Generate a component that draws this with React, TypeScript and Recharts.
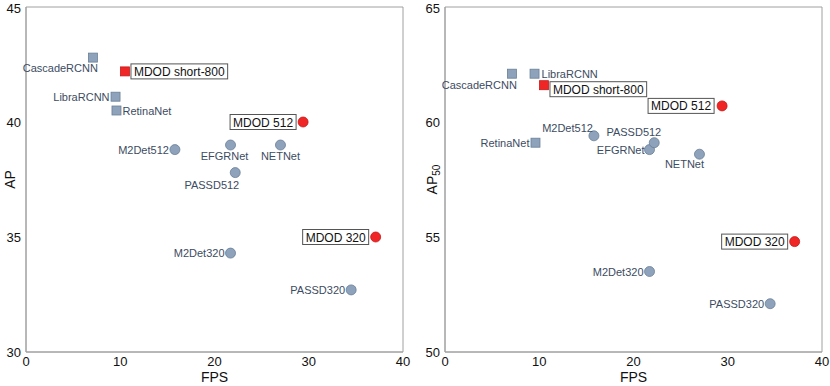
import React from "react";
import {
  ScatterChart,
  Scatter,
  XAxis,
  YAxis,
  ReferenceArea,
} from "recharts";

const models = [
  "CascadeRCNN",
  "LibraRCNN",
  "RetinaNet",
  "M2Det512",
  "EFGRNet",
  "NETNet",
  "PASSD512",
  "M2Det320",
  "PASSD320",
  "MDOD short-800",
  "MDOD 512",
  "MDOD 320",
];
const fps = [7.1, 9.5, 9.6, 15.8, 21.7, 27.0, 22.2, 21.7, 34.5, 10.5, 29.4, 37.1];
const ap = [42.8, 41.1, 40.5, 38.8, 39.0, 39.0, 37.8, 34.3, 32.7, 42.2, 40.0, 35.0];
const ap50 = [62.1, 62.1, 59.1, 59.4, 58.8, 58.6, 59.1, 53.5, 52.1, 61.6, 60.7, 54.8];

const squareModels = ["CascadeRCNN", "LibraRCNN", "RetinaNet", "MDOD short-800"];
const oursModels = ["MDOD short-800", "MDOD 512", "MDOD 320"];

const xTicks = [0, 10, 20, 30, 40];
const apTicks = [30, 35, 40, 45];
const ap50Ticks = [50, 55, 60, 65];

const FONT = "'Liberation Sans', Arial, Helvetica, sans-serif";
const BLUE_FILL = "#8ea3bb";
const BLUE_STROKE = "#6a7f97";
const RED_FILL = "#f02626";
const RED_STROKE = "#c81818";
const LABEL_COLOR = "#3c4c62";
const FRAME = "#a0a0a0";

type Place = { anchor?: "start" | "middle" | "end"; box?: "left" | "right"; dx: number; dy: number };

// label placement per chart (style, not data)
const apPlace: Record<string, Place> = {
  CascadeRCNN: { anchor: "end", dx: 5, dy: 14 },
  LibraRCNN: { anchor: "end", dx: -6, dy: 4 },
  RetinaNet: { anchor: "start", dx: 6, dy: 4 },
  M2Det512: { anchor: "end", dx: -6, dy: 4 },
  EFGRNet: { anchor: "middle", dx: -6, dy: 15 },
  NETNet: { anchor: "middle", dx: 0, dy: 15 },
  PASSD512: { anchor: "end", dx: 4, dy: 16 },
  M2Det320: { anchor: "end", dx: -6, dy: 4 },
  PASSD320: { anchor: "end", dx: -6, dy: 4 },
  "MDOD short-800": { box: "right", dx: 6, dy: 0 },
  "MDOD 512": { box: "left", dx: -7, dy: 0 },
  "MDOD 320": { box: "left", dx: -7, dy: 0 },
};

const ap50Place: Record<string, Place> = {
  CascadeRCNN: { anchor: "end", dx: 5, dy: 15 },
  LibraRCNN: { anchor: "start", dx: 7, dy: 4 },
  RetinaNet: { anchor: "end", dx: -6, dy: 4 },
  M2Det512: { anchor: "end", dx: -1, dy: -4 },
  EFGRNet: { anchor: "end", dx: -5, dy: 4 },
  NETNet: { anchor: "middle", dx: -15, dy: 14 },
  PASSD512: { anchor: "end", dx: 7, dy: -7 },
  M2Det320: { anchor: "end", dx: -6, dy: 4 },
  PASSD320: { anchor: "end", dx: -6, dy: 4 },
  "MDOD short-800": { box: "right", dx: 6, dy: 4 },
  "MDOD 512": { box: "left", dx: -8, dy: 0 },
  "MDOD 320": { box: "left", dx: -7, dy: 0 },
};

let ctx: CanvasRenderingContext2D | null = null;
function textWidth(s: string, size: number) {
  if (!ctx) ctx = document.createElement("canvas").getContext("2d");
  if (!ctx) return s.length * size * 0.55;
  ctx.font = `${size}px 'Liberation Sans'`;
  return ctx.measureText(s).width;
}

function makeShape(place: Record<string, Place>, square: boolean, red: boolean) {
  return (props: any) => {
    const { cx, cy, payload } = props;
    const p = place[payload.name];
    const fill = red ? RED_FILL : BLUE_FILL;
    const stroke = red ? RED_STROKE : BLUE_STROKE;
    const marker = square ? (
      <rect x={cx - 4.5} y={cy - 4.5} width={9} height={9} fill={fill} stroke={stroke} strokeWidth={0.8} />
    ) : (
      <circle cx={cx} cy={cy} r={5} fill={fill} stroke={stroke} strokeWidth={0.8} />
    );
    let label = null;
    if (p.box) {
      const w = textWidth(payload.name, 12) + 6;
      const h = 15;
      const bx = p.box === "right" ? cx + p.dx : cx + p.dx - w;
      const by = cy + p.dy - h / 2;
      label = (
        <g>
          <rect x={bx} y={by} width={w} height={h} fill="#fff" stroke="#555" strokeWidth={1} />
          <text x={bx + w / 2} y={by + 12} textAnchor="middle" fontSize={12} fontFamily={FONT} fill="#111">
            {payload.name}
          </text>
        </g>
      );
    } else {
      label = (
        <text x={cx + p.dx} y={cy + p.dy} textAnchor={p.anchor} fontSize={11} fontFamily={FONT} fill={LABEL_COLOR}>
          {payload.name}
        </text>
      );
    }
    return (
      <g>
        {marker}
        {label}
      </g>
    );
  };
}

function YLabel({ viewBox, lx, sub }: any) {
  const x = lx;
  const y = viewBox.y + viewBox.height / 2;
  return (
    <text
      x={x}
      y={y}
      transform={`rotate(-90, ${x}, ${y})`}
      textAnchor="middle"
      dominantBaseline="central"
      fontSize={14}
      fontFamily={FONT}
      fill="#111"
    >
      AP
      {sub && (
        <tspan fontSize={10} dy={4}>
          {sub}
        </tspan>
      )}
    </text>
  );
}

function XLabel({ viewBox }: any) {
  return (
    <text
      x={viewBox.x + viewBox.width / 2}
      y={382}
      textAnchor="middle"
      fontSize={14}
      fontFamily={FONT}
      fill="#111"
    >
      FPS
    </text>
  );
}

function Panel({
  values,
  ticks,
  place,
  yWidth,
  right,
  labelX,
  sub,
}: {
  values: number[];
  ticks: number[];
  place: Record<string, Place>;
  yWidth: number;
  right: number;
  labelX: number;
  sub?: string;
}) {
  const rows = models.map((name, i) => ({ name, fps: fps[i], value: values[i] }));
  const groups = [
    { square: true, red: false },
    { square: false, red: false },
    { square: true, red: true },
    { square: false, red: true },
  ];
  const lo = ticks[0];
  const hi = ticks[ticks.length - 1];
  return (
    <ScatterChart width={415} height={386} margin={{ top: 7, right, bottom: 0, left: 0 }}>
      <XAxis
        type="number"
        dataKey="fps"
        domain={[0, 40]}
        ticks={xTicks}
        tickLine={false}
        tickSize={3}
        tickMargin={2}
        height={34}
        axisLine={{ stroke: FRAME }}
        tick={{ fontSize: 13, fill: "#111", fontFamily: FONT }}
        label={<XLabel />}
      />
      <YAxis
        type="number"
        dataKey="value"
        domain={[lo, hi]}
        ticks={ticks}
        tickLine={false}
        tickSize={3}
        tickMargin={2}
        width={yWidth}
        axisLine={{ stroke: FRAME }}
        tick={{ fontSize: 13, fill: "#111", fontFamily: FONT }}
        label={<YLabel lx={labelX} sub={sub} />}
      />
      <ReferenceArea x1={0} x2={40} y1={lo} y2={hi} fill="none" stroke={FRAME} strokeWidth={1} />
      {groups.map((g, i) => (
        <Scatter
          key={i}
          data={rows.filter(
            (r) => squareModels.includes(r.name) === g.square && oursModels.includes(r.name) === g.red
          )}
          isAnimationActive={false}
          shape={makeShape(place, g.square, g.red)}
        />
      ))}
    </ScatterChart>
  );
}

export default function App() {
  return (
    <div style={{ position: "absolute", left: 0, top: 0, width: 830, height: 386, display: "flex", background: "#fff" }}>
      <Panel values={ap} ticks={apTicks} place={apPlace} yWidth={26} right={12} labelX={10} />
      <Panel values={ap50} ticks={ap50Ticks} place={ap50Place} yWidth={30} right={8} labelX={17} sub="50" />
    </div>
  );
}
